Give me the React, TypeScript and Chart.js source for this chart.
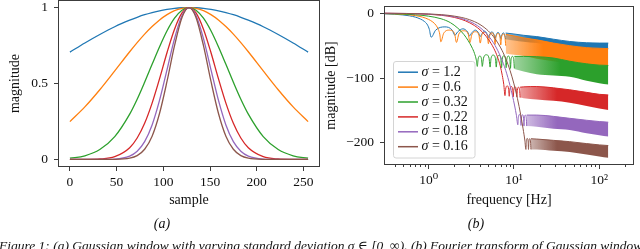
import React, { useEffect, useRef } from 'react';
import { Chart, registerables } from 'chart.js';

Chart.register(...registerables);

const SERIF = "'Liberation Serif', 'DejaVu Serif', serif";
const COLORS = ['#1f77b4', '#ff7f0e', '#2ca02c', '#d62728', '#9467bd', '#8c564b'];
const SIGMAS = ['1.2', '0.6', '0.32', '0.22', '0.18', '0.16'];
const FRAME = '#3c3c3c';
const TEXT = '#111111';

// ---------- (a) Gaussian windows ----------
const sampleX = [0, 16, 32, 48, 64, 72, 80, 88, 96, 104, 112, 120, 127.5, 135, 143, 151, 159, 167, 175, 183, 191, 207, 223, 239, 255];
const winS120 = [0.707, 0.767, 0.823, 0.874, 0.917, 0.936, 0.953, 0.967, 0.979, 0.988, 0.995, 0.999, 1, 0.999, 0.995, 0.988, 0.979, 0.967, 0.953, 0.936, 0.917, 0.874, 0.823, 0.767, 0.707];
const winS060 = [0.249, 0.346, 0.459, 0.583, 0.709, 0.769, 0.825, 0.875, 0.919, 0.954, 0.98, 0.995, 1, 0.995, 0.98, 0.954, 0.919, 0.875, 0.825, 0.769, 0.709, 0.583, 0.459, 0.346, 0.249];
const winS032 = [0.008, 0.024, 0.065, 0.15, 0.298, 0.396, 0.508, 0.626, 0.742, 0.847, 0.93, 0.983, 1, 0.983, 0.93, 0.847, 0.742, 0.626, 0.508, 0.396, 0.298, 0.15, 0.065, 0.024, 0.008];
const winS022 = [0, 0.0004, 0.003, 0.018, 0.077, 0.141, 0.238, 0.371, 0.532, 0.704, 0.858, 0.965, 1, 0.965, 0.858, 0.704, 0.532, 0.371, 0.238, 0.141, 0.077, 0.018, 0.003, 0.0004, 0];
const winS018 = [0, 0, 0.0002, 0.0025, 0.022, 0.054, 0.117, 0.227, 0.39, 0.592, 0.796, 0.948, 1, 0.948, 0.796, 0.592, 0.39, 0.227, 0.117, 0.054, 0.022, 0.0025, 0.0002, 0, 0];
const winS016 = [0, 0, 0, 0.0005, 0.008, 0.025, 0.067, 0.153, 0.304, 0.515, 0.749, 0.935, 1, 0.935, 0.749, 0.515, 0.304, 0.153, 0.067, 0.025, 0.008, 0.0005, 0, 0, 0];

const sampleTicks = [0, 50, 100, 150, 200, 250];
const magTicks = [0, 0.5, 1];
const magTickLabels = ['0', '0.5', '1'];

// ---------- (b) spectra (frequency in Hz, magnitude in dB) ----------
const blueFreq = [0.3, 0.4, 0.5, 0.6, 0.7, 0.8, 0.9, 0.97, 1.02, 1.07, 1.21, 1.55, 1.89, 2.03, 2.18, 2.52, 2.87, 3.02, 3.17, 3.52, 3.87, 4.02, 4.17, 4.52, 4.86, 5.01, 5.16, 5.51, 5.86, 6.01, 6.16, 6.5, 6.85, 7.0, 7.15, 7.5, 7.85, 8.0];
const blueDb = [-0.8, -1.5, -2.6, -4.0, -6.0, -8.8, -13, -18, -25, -37, -26, -21, -26, -34, -29, -24, -29, -35, -31, -26, -31, -36, -32.5, -27.5, -32.5, -37.5, -33.5, -28.5, -33.5, -38.5, -34.3, -29.3, -34.3, -39, -35, -30, -35, -40];
const blueBandFreq = [8, 10, 13, 18.5, 29, 45, 71, 100, 127.4];
const blueBandTop = [-30.5, -32, -34, -36, -40, -43.5, -45.5, -46, -46];
const blueBandBottom = [-40, -42, -44, -46, -50, -53, -55, -56, -56];

const orangeFreq = [0.3, 0.5, 0.7, 0.85, 1.0, 1.12, 1.22, 1.3, 1.35, 1.39, 1.5, 1.75, 2.01, 2.12, 2.26, 2.58, 2.91, 3.05, 3.2, 3.54, 3.88, 4.03, 4.18, 4.52, 4.87, 5.02, 5.17, 5.51, 5.86, 6.01, 6.16, 6.5, 6.85, 7.0, 7.15, 7.5, 7.85, 8.0];
const orangeDb = [-0.5, -1.6, -3.6, -6, -9.5, -13.5, -18.5, -25, -32, -44, -31, -26, -31, -45, -32, -27, -32, -45, -33.5, -28.5, -33.5, -46, -34.5, -29.5, -34.5, -47, -35.5, -30.5, -35.5, -48, -36.3, -31.3, -36.3, -49, -37, -32, -37, -50];
const orangeBandFreq = [8, 10, 13, 18.5, 29, 45, 71, 100, 127.4];
const orangeBandTop = [-32.5, -35, -38, -41, -46, -50, -53, -54, -54.5];
const orangeBandBottom = [-62, -64, -66, -70, -74, -78, -81, -82, -82];

const greenFreq = [0.3, 0.5, 0.7, 1.0, 1.4, 1.8, 2.2, 2.6, 2.9, 3.2, 3.45, 3.62, 3.72, 3.8, 3.98, 4.17, 4.25, 4.4, 4.75, 5.1, 5.25, 5.39, 5.72, 6.06, 6.2, 6.34, 6.68, 7.01, 7.15, 7.29, 7.62, 7.96, 8.1, 8.25, 8.6, 8.95, 9.1, 9.25, 9.6, 9.95, 10.1];
const greenDb = [-0.4, -1.2, -2.3, -4.5, -8.5, -14.5, -23, -33, -42, -52, -62, -72, -82, -71, -66, -71, -82, -69, -64, -69, -83, -69.5, -64.5, -69.5, -83, -70, -65, -70, -84, -70.5, -65.5, -70.5, -84, -71, -66, -71, -85, -71.5, -66.5, -71.5, -85];
const greenBandFreq = [10.1, 13, 18.5, 29, 45, 71, 100, 127.4];
const greenBandTop = [-66.5, -66.5, -67, -69, -74, -78, -80, -80.5];
const greenBandBottom = [-86, -90, -94, -96, -98, -104, -108, -110];

const redFreq = [0.3, 1, 2, 3, 4, 5, 5.8, 6.4, 6.9, 7.3, 7.6, 7.85, 7.99, 8.33, 8.66, 8.8, 8.95, 9.3, 9.65, 9.8, 9.95, 10.3, 10.65, 10.8, 10.95, 11.3, 11.65, 11.8];
const redDb = [0, -1.6, -6.4, -14.5, -25.5, -40, -54, -67, -81, -96, -110, -127, -117, -112, -117, -128, -118, -113, -118, -129, -118.5, -113.5, -118.5, -129, -119, -114, -119, -130];
const redBandFreq = [11.8, 13, 18.5, 29, 45, 71, 100, 127.4];
const redBandTop = [-114, -113.5, -113, -115, -118, -122, -125, -126];
const redBandBottom = [-130, -131, -133, -135, -138, -143, -147, -149];

const purpleFreq = [0.3, 1, 2, 3, 4, 5, 6, 7, 8, 9, 9.6, 10.2, 10.7, 11.1, 11.25, 11.6, 11.95, 12.1, 12.25, 12.6, 12.95, 13.1, 13.25, 13.6, 13.95, 14.1];
const purpleDb = [0, -1.4, -5.5, -12.4, -22, -34.5, -49.6, -67.5, -88, -111.6, -127, -143, -158, -172, -161, -156, -161, -173, -161.5, -156.5, -161.5, -174, -162, -157, -162, -174];
const purpleBandFreq = [14.1, 18.5, 29, 45, 71, 100, 127.4];
const purpleBandTop = [-157, -157, -159, -162, -165, -167, -168];
const purpleBandBottom = [-174, -175, -178, -180, -185, -188, -190];

const brownFreq = [0.3, 1, 2, 3, 4, 5, 6, 7, 8, 9, 10, 11, 12, 12.8, 13.4, 13.8, 13.95, 14.3, 14.65, 14.8, 14.95, 15.3, 15.65, 15.8];
const brownDb = [0, -1.1, -4.4, -9.8, -17.4, -27.2, -39.2, -53.4, -69.7, -88.2, -109, -131.8, -156.8, -178.4, -195.5, -210, -198, -193, -198, -210, -198.5, -193.5, -198.5, -210];
const brownBandFreq = [15.8, 18.5, 29, 45, 71, 100, 127.4];
const brownBandTop = [-193.5, -194, -196, -198, -201, -203, -204];
const brownBandBottom = [-210, -210, -212, -214, -218, -221, -223];

const freqTicks = [1, 10, 100];
const freqTickLabels = ['10\u2070', '10\u00b9', '10\u00b2'];
const freqMinorTicks = [0.4, 0.5, 0.6, 0.7, 0.8, 0.9, 2, 3, 4, 5, 6, 7, 8, 9, 20, 30, 40, 50, 60, 70, 80, 90, 200];
const dbTicks = [0, -100, -200];
const dbTickLabels = ['0', '\u2212100', '\u2212200'];

// ---------- helpers ----------
const pts = (xs: number[], ys: number[]) => xs.map((x, i) => ({ x, y: ys[i] }));

function rgba(hex: string, a: number) {
  const n = parseInt(hex.slice(1), 16);
  return `rgba(${(n >> 16) & 255},${(n >> 8) & 255},${n & 255},${a})`;
}

function bandFill(color: string, fStart: number, fSolid: number) {
  return (c: any) => {
    const chart = c.chart;
    const sx = chart.scales && chart.scales.x;
    if (!chart.chartArea || !sx) return color;
    const g = chart.ctx.createLinearGradient(sx.getPixelForValue(fStart), 0, sx.getPixelForValue(fSolid), 0);
    g.addColorStop(0, rgba(color, 0.45));
    g.addColorStop(1, rgba(color, 1));
    return g;
  };
}

const framePlugin = {
  id: 'axesFrame',
  afterDatasetsDraw(chart: any, _args: any, opts: any) {
    const { ctx, chartArea: a } = chart;
    const l = Math.round(a.left) + 0.5;
    const t = Math.round(a.top) + 0.5;
    const r = Math.round(a.right) - 0.5;
    const b = Math.round(a.bottom) - 0.5;
    ctx.save();
    ctx.strokeStyle = FRAME;
    ctx.lineWidth = 1;
    ctx.strokeRect(l, t, r - l, b - t);
    const minor: number[] | undefined = opts && opts.minorX;
    if (minor && minor.length) {
      const sx = chart.scales.x;
      ctx.beginPath();
      for (const v of minor) {
        if (v < sx.min || v > sx.max) continue;
        const px = Math.round(sx.getPixelForValue(v)) + 0.5;
        ctx.moveTo(px, b + 0.5);
        ctx.lineTo(px, b + 2.5);
      }
      ctx.stroke();
    }
    ctx.restore();
  },
};

const legendPlugin = {
  id: 'sigmaLegend',
  afterDraw(chart: any) {
    const { ctx, chartArea: a } = chart;
    const x = Math.round(a.left) + 9.5;
    const y = Math.round(a.top) + 55.5;
    const w = 81.5;
    const h = 96.5;
    ctx.save();
    ctx.beginPath();
    (ctx as any).roundRect(x, y, w, h, 2.5);
    ctx.fillStyle = 'rgba(255,255,255,0.8)';
    ctx.fill();
    ctx.strokeStyle = '#d4d4d4';
    ctx.lineWidth = 1;
    ctx.stroke();
    SIGMAS.forEach((s, i) => {
      const cy = y + 10.7 + i * 14.9;
      ctx.strokeStyle = COLORS[i];
      ctx.lineWidth = 1.5;
      ctx.beginPath();
      ctx.moveTo(x + 4.5, cy);
      ctx.lineTo(x + 24.5, cy);
      ctx.stroke();
      ctx.fillStyle = TEXT;
      ctx.textBaseline = 'middle';
      ctx.textAlign = 'left';
      ctx.font = `italic 14px ${SERIF}`;
      ctx.fillText('\u03c3', x + 28, cy);
      const w1 = ctx.measureText('\u03c3').width;
      ctx.font = `14px ${SERIF}`;
      ctx.fillText(` = ${s}`, x + 28 + w1, cy);
    });
    ctx.restore();
  },
};

const tickFont = { family: SERIF, size: 13.5 };
const titleFont = { family: SERIF, size: 14 };

function gridOpts() {
  return {
    display: true,
    drawOnChartArea: false,
    drawTicks: true,
    tickLength: 4,
    tickColor: FRAME,
    tickWidth: 1,
  };
}

function leftConfig(): any {
  const wins = [winS120, winS060, winS032, winS022, winS018, winS016];
  return {
    type: 'line',
    data: {
      datasets: wins.map((w, i) => ({
        data: pts(sampleX, w),
        borderColor: COLORS[i],
        borderWidth: 1.3,
        pointRadius: 0,
        fill: false,
        cubicInterpolationMode: 'monotone',
        borderJoinStyle: 'round',
        order: 6 - i,
      })),
    },
    options: {
      responsive: false,
      animation: false,
      devicePixelRatio: 1,
      events: [],
      layout: { padding: { left: 0, right: 320, top: 0, bottom: 0 } },
      plugins: { legend: { display: false }, tooltip: { enabled: false } },
      scales: {
        x: {
          type: 'linear',
          min: -12.75,
          max: 267.75,
          grid: gridOpts(),
          border: { display: false },
          ticks: { font: tickFont, color: TEXT, padding: 3, maxRotation: 0, callback: (v: any) => String(v) },
          title: { display: true, text: 'sample', font: titleFont, color: TEXT, padding: { top: 0, bottom: 40.6 } },
          afterBuildTicks: (s: any) => { s.ticks = sampleTicks.map((v) => ({ value: v })); },
          afterFit: (s: any) => { s.height = 82; s.paddingLeft = 0; s.paddingRight = 0; },
        },
        y: {
          type: 'linear',
          min: -0.05,
          max: 1.05,
          grid: gridOpts(),
          border: { display: false },
          ticks: { font: tickFont, color: TEXT, padding: 6, callback: (_v: any, i: number) => magTickLabels[i] },
          title: { display: true, text: 'magnitude', font: titleFont, color: TEXT, padding: { top: 6.6, bottom: 0 } },
          afterBuildTicks: (s: any) => { s.ticks = magTicks.map((v) => ({ value: v })); },
          afterFit: (s: any) => { s.width = 58; s.paddingTop = 0; s.paddingBottom = 0; },
        },
      },
    },
    plugins: [framePlugin],
  };
}

function rightConfig(): any {
  const series = [
    { f: blueFreq, d: blueDb, bf: blueBandFreq, bt: blueBandTop, bb: blueBandBottom, solid: 16 },
    { f: orangeFreq, d: orangeDb, bf: orangeBandFreq, bt: orangeBandTop, bb: orangeBandBottom, solid: 22 },
    { f: greenFreq, d: greenDb, bf: greenBandFreq, bt: greenBandTop, bb: greenBandBottom, solid: 35 },
    { f: redFreq, d: redDb, bf: redBandFreq, bt: redBandTop, bb: redBandBottom, solid: 32 },
    { f: purpleFreq, d: purpleDb, bf: purpleBandFreq, bt: purpleBandTop, bb: purpleBandBottom, solid: 32 },
    { f: brownFreq, d: brownDb, bf: brownBandFreq, bt: brownBandTop, bb: brownBandBottom, solid: 32 },
  ];
  const datasets: any[] = [];
  series.forEach((s, i) => {
    const color = COLORS[i];
    const order = 6 - i;
    datasets.push({
      data: pts(s.f, s.d),
      borderColor: color,
      borderWidth: 1,
      pointRadius: 0,
      fill: false,
      cubicInterpolationMode: 'monotone',
      borderJoinStyle: 'round',
      order,
    });
    datasets.push({
      data: pts(s.bf, s.bt),
      borderColor: color,
      borderWidth: 1,
      pointRadius: 0,
      fill: '+1',
      backgroundColor: bandFill(color, s.bf[0], s.solid),
      cubicInterpolationMode: 'monotone',
      order,
    });
    datasets.push({
      data: pts(s.bf, s.bb),
      borderColor: 'rgba(0,0,0,0)',
      borderWidth: 0,
      pointRadius: 0,
      fill: false,
      cubicInterpolationMode: 'monotone',
      order,
    });
  });
  return {
    type: 'line',
    data: { datasets },
    options: {
      responsive: false,
      animation: false,
      devicePixelRatio: 1,
      events: [],
      layout: { padding: { left: 322, right: 6, top: 6, bottom: 0 } },
      plugins: {
        legend: { display: false },
        tooltip: { enabled: false },
        axesFrame: { minorX: freqMinorTicks },
      },
      scales: {
        x: {
          type: 'logarithmic',
          min: 0.306,
          max: 255,
          grid: gridOpts(),
          border: { display: false },
          ticks: { font: tickFont, color: TEXT, padding: 3, maxRotation: 0, autoSkip: false, callback: (_v: any, i: number) => freqTickLabels[i] },
          title: { display: true, text: 'frequency [Hz]', font: titleFont, color: TEXT, padding: { top: 0, bottom: 40.6 } },
          afterBuildTicks: (s: any) => { s.ticks = freqTicks.map((v) => ({ value: v })); },
          afterFit: (s: any) => { s.height = 84; s.paddingLeft = 0; s.paddingRight = 0; },
        },
        y: {
          type: 'linear',
          min: -234,
          max: 11.2,
          grid: gridOpts(),
          border: { display: false },
          ticks: { font: tickFont, color: TEXT, padding: 6, callback: (_v: any, i: number) => dbTickLabels[i] },
          title: { display: true, text: 'magnitude [dB]', font: titleFont, color: TEXT, padding: { top: 1.3, bottom: 0 } },
          afterBuildTicks: (s: any) => { s.ticks = dbTicks.map((v) => ({ value: v })); },
          afterFit: (s: any) => { s.width = 62; s.paddingTop = 0; s.paddingBottom = 0; },
        },
      },
    },
    plugins: [framePlugin, legendPlugin],
  };
}

const textStyle: React.CSSProperties = {
  position: 'absolute',
  fontFamily: SERIF,
  color: TEXT,
  whiteSpace: 'nowrap',
  lineHeight: 1,
};

export default function App() {
  const leftRef = useRef<HTMLCanvasElement>(null);
  const rightRef = useRef<HTMLCanvasElement>(null);

  useEffect(() => {
    const left = new Chart(leftRef.current as HTMLCanvasElement, leftConfig());
    const right = new Chart(rightRef.current as HTMLCanvasElement, rightConfig());
    return () => {
      left.destroy();
      right.destroy();
    };
  }, []);

  return (
    <div style={{ position: 'fixed', left: 0, top: 0, width: 640, height: 249, overflow: 'hidden', background: '#fff' }}>
      <canvas ref={leftRef} width={640} height={249} style={{ position: 'absolute', left: 0, top: 0 }} />
      <canvas ref={rightRef} width={640} height={249} style={{ position: 'absolute', left: 0, top: 0 }} />
      <div style={{ ...textStyle, left: 162, top: 224, fontSize: 14, fontStyle: 'italic', transform: 'translate(-50%, -50%)' }}>(a)</div>
      <div style={{ ...textStyle, left: 476, top: 224, fontSize: 14, fontStyle: 'italic', transform: 'translate(-50%, -50%)' }}>(b)</div>
      <div style={{ ...textStyle, left: -1, top: 238.5, fontSize: 13.5, fontStyle: 'italic' }}>
        Figure 1: (a) Gaussian window with varying standard deviation σ ∈ [0, ∞). (b) Fourier transform of Gaussian window
      </div>
    </div>
  );
}
